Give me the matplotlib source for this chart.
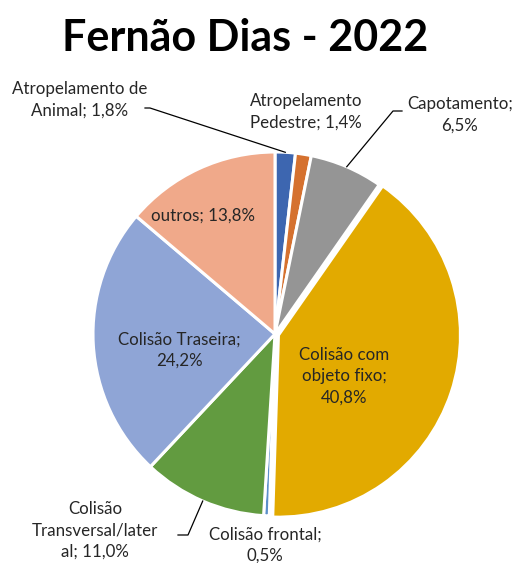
import matplotlib.pyplot as plt
import numpy as np

categories = ['Atropelamento de Animal', 'Atropelamento Pedestre', 'Capotamento',
              'Colisão com objeto fixo', 'Colisão frontal', 'Colisão Transversal/lateral',
              'Colisão Traseira', 'outros']
values = [1.8, 1.4, 6.5, 40.8, 0.5, 11.0, 24.2, 13.8]
label_texts = ['Atropelamento de\nAnimal; 1,8%', 'Atropelamento\nPedestre; 1,4%',
               'Capotamento;\n6,5%', 'Colisão com\nobjeto fixo;\n40,8%',
               'Colisão frontal;\n0,5%', 'Colisão\nTransversal/later\nal; 11,0%',
               'Colisão Traseira;\n24,2%', 'outros; 13,8%']
colors = ['#3D66B0', '#D5712F', '#959595', '#E2AA00', '#5B8FC9', '#629B40', '#8FA5D6', '#F0A98A']

plt.rcParams['font.family'] = ['Lato', 'DejaVu Sans']

fig = plt.figure(figsize=(5.15, 5.63), dpi=100)
ax = fig.add_axes([0, 0, 1, 1])

# pixel -> data helpers (pie centre at 275,334 px, radius 182 px)
cx, cy, R = 275, 334, 182
def px(x, y):
    return (x - cx) / R, (cy - y) / R

explode = [0, 0, 0, 0.02, 0, 0, 0, 0]
wedges, _ = ax.pie(values, colors=colors, startangle=90, counterclock=False,
                   radius=1, explode=explode,
                   wedgeprops=dict(edgecolor='white', linewidth=2.2))

# pie() resets the limits, so set them afterwards
ax.set_aspect('auto')
ax.set_xlim((0 - cx) / R, (515 - cx) / R)
ax.set_ylim((cy - 563) / R, cy / R)
ax.axis('off')

# mid angles of slices (measured clockwise from top)
cum = np.cumsum([0] + values)
mids = (cum[:-1] + cum[1:]) / 2 / 100 * 360
def edge_point(i, r=1.0):
    a = np.deg2rad(mids[i])
    return r * np.sin(a), r * np.cos(a)

fs = 12.2
# label positions in pixels
label_pos = {
    0: (80, 100),
    1: (306, 112),
    2: (460, 115),
    3: (344, 376),
    4: (265, 545),
    5: (95, 530),
    6: (179, 350),
    7: (203, 216),
}
for i, (x, y) in label_pos.items():
    tx, ty = px(x, y)
    ax.text(tx, ty, label_texts[i], ha='center', va='center', fontsize=fs,
            color='#262626', linespacing=1.42)

# leader lines
leaders = {
    0: [(145, 108), (150, 108)],
    2: [(402, 111), (393, 111)],
    5: [(178, 535), (188, 535)],
}
for i, pts in leaders.items():
    p0 = px(*pts[0])
    p1 = px(*pts[1])
    p2 = edge_point(i)
    ax.plot([p0[0], p1[0], p2[0]], [p0[1], p1[1], p2[1]], color='black', lw=0.9)

fig.text(245 / 515, 1 - 38 / 563, 'Fernão Dias - 2022', ha='center', va='center',
         fontsize=31, fontweight='bold', color='black')

fig.savefig('out.png', dpi=100)
